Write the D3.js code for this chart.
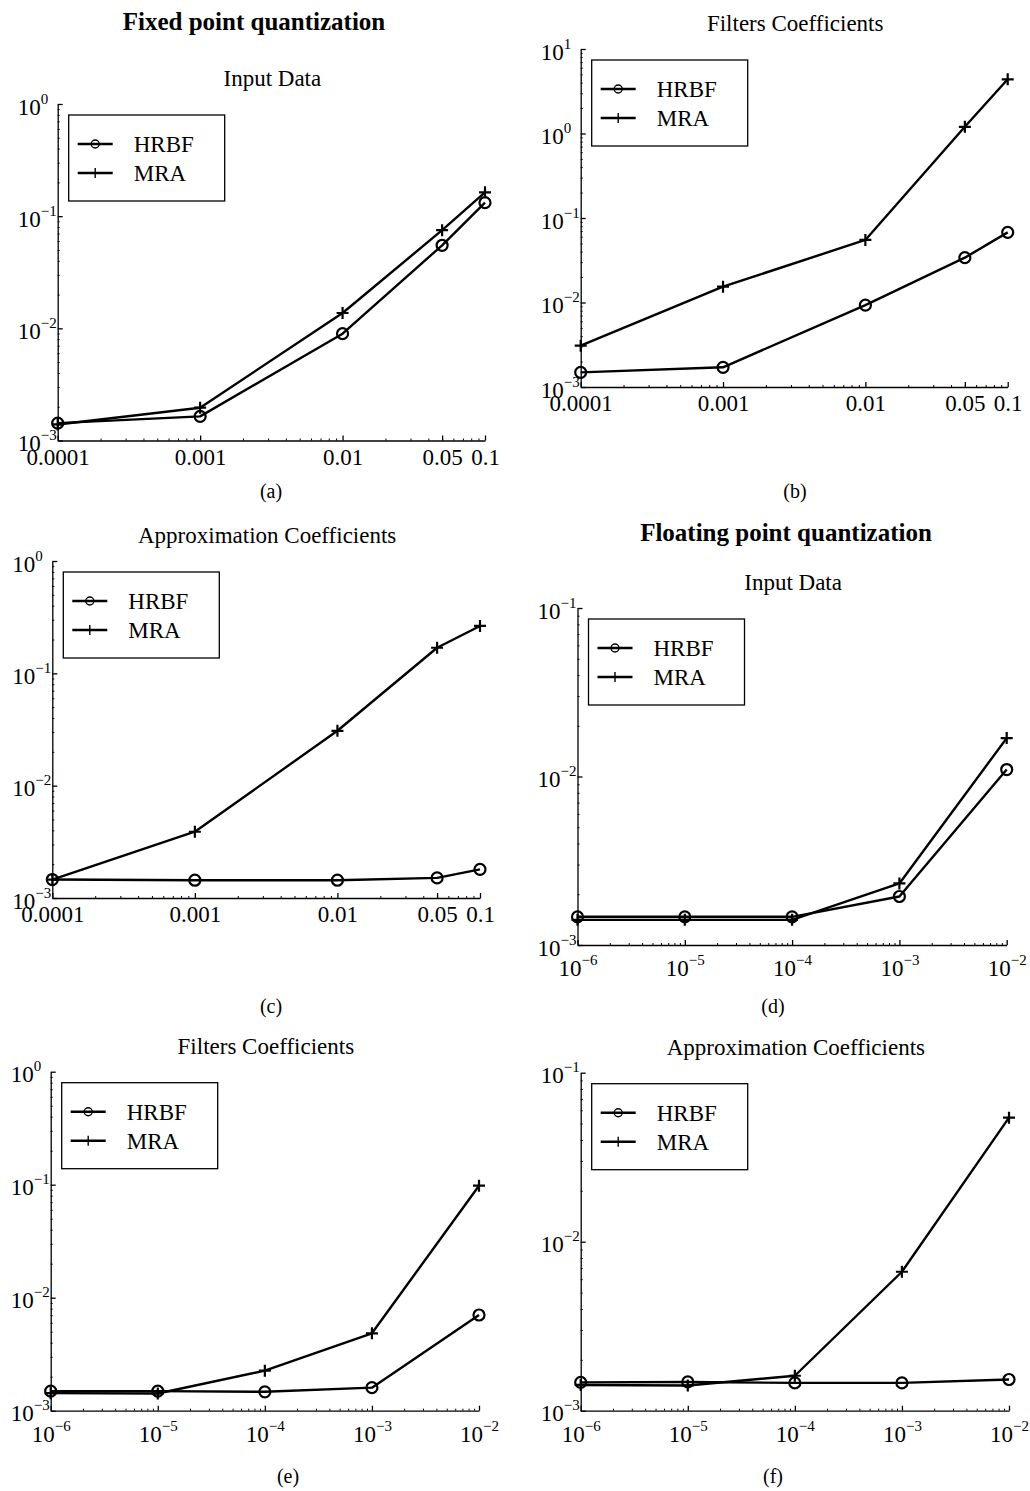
<!DOCTYPE html>
<html>
<head>
<meta charset="utf-8">
<script src="https://cdn.jsdelivr.net/npm/d3@7"></script>
<style>
    body { margin: 0; background: #fff; }
    svg { display: block; font-family: "Liberation Serif", "Times New Roman", serif; }
    .axis path, .axis line { stroke: #000; stroke-width: 1.3; fill: none; }
    .axis.minor line { stroke-width: 1; }
    .axis text { font-family: "Liberation Serif", "Times New Roman", serif; font-size: 23px; fill: #000; }
    .series { fill: none; stroke: #000; stroke-width: 2.4; stroke-linejoin: round; }
    .marker { fill: none; stroke: #000; stroke-width: 2.2; }
    .legend-box { fill: #fff; stroke: #000; stroke-width: 1.3; }
    .legend text { font-size: 23px; }
    .heading { font-size: 25px; font-weight: bold; text-anchor: middle; }
    .subtitle { font-size: 23px; text-anchor: middle; }
    .caption { font-size: 20px; text-anchor: middle; }
</style>
</head>
<body>
<script>
// quantization steps on the x axis
var fixedSteps = [0.0001, 0.001, 0.01, 0.05, 0.1];
var fixedStepLabels = ["0.0001", "0.001", "0.01", "0.05", "0.1"];
var floatSteps = [1e-6, 1e-5, 1e-4, 1e-3, 1e-2];

var seriesNames = ["HRBF", "MRA"];

// fixed point quantization
var hrbfFixedInput = [1.43e-3, 1.64e-3, 8.96e-3, 0.055, 0.132];
var mraFixedInput = [1.39e-3, 1.96e-3, 0.0137, 0.075, 0.163];
var hrbfFixedFilters = [1.49e-3, 1.71e-3, 9.3e-3, 0.0339, 0.0676];
var mraFixedFilters = [3.08e-3, 0.0154, 0.055, 1.20, 4.38];
var hrbfFixedApprox = [1.46e-3, 1.44e-3, 1.44e-3, 1.51e-3, 1.80e-3];
var mraFixedApprox = [1.46e-3, 3.89e-3, 0.0308, 0.169, 0.264];

// floating point quantization
var hrbfFloatInput = [1.47e-3, 1.47e-3, 1.47e-3, 1.94e-3, 0.011];
var mraFloatInput = [1.41e-3, 1.41e-3, 1.41e-3, 2.32e-3, 0.0169];
var hrbfFloatFilters = [1.49e-3, 1.49e-3, 1.47e-3, 1.60e-3, 7.03e-3];
var mraFloatFilters = [1.43e-3, 1.42e-3, 2.26e-3, 4.84e-3, 0.098];
var hrbfFloatApprox = [1.47e-3, 1.48e-3, 1.46e-3, 1.46e-3, 1.53e-3];
var mraFloatApprox = [1.42e-3, 1.41e-3, 1.61e-3, 6.64e-3, 0.0542];

// y axis decades (exponents of 10), per panel
var yDecades = [[-3, 0], [-3, 1], [-3, 0], [-3, -1], [-3, 0], [-3, -1]];

var headings = ["Fixed point quantization", "Floating point quantization"];
var panelTitles = ["Input Data", "Filters Coefficients", "Approximation Coefficients",
                   "Input Data", "Filters Coefficients", "Approximation Coefficients"];
var captions = ["(a)", "(b)", "(c)", "(d)", "(e)", "(f)"];


function logPanel(svg) {
    var _chart = {};

    var _box = {left: 0, right: 400, top: 0, bottom: 300},
        _steps = [], _stepLabels = null,
        _decades = [-3, 0],
        _hrbf = [], _mra = [],
        _title = "", _caption = "", _captionAt = [0, 0],
        _x, _y, _g;

    _chart.render = function () {
        _x = d3.scaleLog()
                .domain([_steps[0], _steps[_steps.length - 1]])
                .range([_box.left, _box.right]);
        _y = d3.scaleLog()
                .domain([Math.pow(10, _decades[0]), Math.pow(10, _decades[1])])
                .range([_box.bottom, _box.top]);

        _g = svg.append("g").attr("class", "panel");

        renderMinorTicks();
        renderXAxis();
        renderYAxis();
        renderLines();
        renderLegend();
        renderTexts();
    };

    function minorValues(lo, hi) {
        var vals = [];
        for (var e = lo; e < hi; e++)
            for (var m = 2; m <= 9; m++) vals.push(m * Math.pow(10, e));
        return vals;
    }

    function renderMinorTicks() {
        var xlo = Math.round(Math.log10(_steps[0])),
            xhi = Math.ceil(Math.log10(_steps[_steps.length - 1]) - 1e-9);
        var xm = minorValues(xlo, xhi).filter(function (v) {
            return v <= _steps[_steps.length - 1] * 1.0001;
        });

        _g.append("g")
                .attr("class", "axis minor")
                .attr("transform", "translate(0," + _box.bottom + ")")
                .call(d3.axisBottom(_x).tickValues(xm).tickSize(-2).tickFormat(""))
                .select(".domain").remove();

        _g.append("g")
                .attr("class", "axis minor")
                .attr("transform", "translate(" + _box.left + ",0)")
                .call(d3.axisLeft(_y).tickValues(minorValues(_decades[0], _decades[1])).tickSize(-2).tickFormat(""))
                .select(".domain").remove();
    }

    function renderXAxis() {
        var axisG = _g.append("g")
                .attr("class", "x axis")
                .attr("transform", "translate(0," + _box.bottom + ")")
                .call(d3.axisBottom(_x).tickValues(_steps).tickSizeInner(-5).tickSizeOuter(0).tickFormat(""));

        axisG.selectAll(".tick text").remove();

        axisG.selectAll(".tick").each(function (d, i) {
            var t = d3.select(this).append("text")
                    .attr("text-anchor", "middle")
                    .attr("fill", "#000");
            if (_stepLabels) {
                t.attr("y", 24).text(_stepLabels[i]);
            } else {
                t.attr("y", 31);
                powerLabel(t, Math.round(Math.log10(d)));
            }
        });
    }

    function renderYAxis() {
        var ticks = d3.range(_decades[0], _decades[1] + 1).map(function (e) { return Math.pow(10, e); });

        var axisG = _g.append("g")
                .attr("class", "y axis")
                .attr("transform", "translate(" + _box.left + ",0)")
                .call(d3.axisLeft(_y).tickValues(ticks).tickSizeInner(-5).tickSizeOuter(0).tickFormat(""));

        axisG.selectAll(".tick text").remove();

        // the "10" bases line up on the left, exponents follow
        axisG.selectAll(".tick").each(function (d) {
            var t = d3.select(this).append("text")
                    .attr("text-anchor", "start")
                    .attr("x", -40)
                    .attr("y", 10)
                    .attr("fill", "#000");
            powerLabel(t, Math.round(Math.log10(d)));
        });
    }

    function powerLabel(text, e) {
        text.append("tspan").text("10");
        text.append("tspan")
                .attr("dy", -11)
                .style("font-size", "15px")
                .text(e < 0 ? "\u2212" + (-e) : String(e));
    }

    function renderLines() {
        var line = d3.line()
                .x(function (d) { return _x(d.x); })
                .y(function (d) { return _y(d.y); });

        var sets = [_hrbf, _mra].map(function (vals) {
            return vals.map(function (v, i) { return {x: _steps[i], y: v}; });
        });

        _g.selectAll("path.series").data(sets)
                .enter()
                .append("path")
                .attr("class", "series")
                .attr("d", line);

        _g.selectAll("circle.marker").data(sets[0])
                .enter()
                .append("circle")
                .attr("class", "marker")
                .attr("r", 5.5)
                .attr("cx", function (d) { return _x(d.x); })
                .attr("cy", function (d) { return _y(d.y); });

        _g.selectAll("path.marker").data(sets[1])
                .enter()
                .append("path")
                .attr("class", "marker")
                .attr("d", "M-6,0H6M0,-6V6")
                .attr("transform", function (d) {
                    return "translate(" + _x(d.x) + "," + _y(d.y) + ")";
                });
    }

    function renderLegend() {
        var lg = _g.append("g")
                .attr("class", "legend")
                .attr("transform", "translate(" + (_box.left + 11) + "," + (_box.top + 11) + ")");

        lg.append("rect")
                .attr("class", "legend-box")
                .attr("width", 156)
                .attr("height", 86);

        var rows = lg.selectAll("g.row").data(seriesNames)
                .enter()
                .append("g")
                .attr("class", "row")
                .attr("transform", function (d, i) { return "translate(0," + (29 + i * 29) + ")"; });

        rows.append("line")
                .attr("x1", 9).attr("x2", 44)
                .attr("stroke", "#000")
                .attr("stroke-width", 2.6);

        rows.filter(function (d, i) { return i === 0; })
                .append("circle")
                .attr("cx", 26.5)
                .attr("r", 4)
                .attr("fill", "none")
                .attr("stroke", "#000")
                .attr("stroke-width", 1.4);

        rows.filter(function (d, i) { return i === 1; })
                .append("path")
                .attr("d", "M26.5,-5V5")
                .attr("stroke", "#000")
                .attr("stroke-width", 1.4);

        rows.append("text")
                .attr("x", 65)
                .attr("y", 8)
                .text(function (d) { return d; });
    }

    function renderTexts() {
        _g.append("text")
                .attr("class", "subtitle")
                .attr("x", (_box.left + _box.right) / 2 + 1)
                .attr("y", _box.top - 18)
                .text(_title);

        _g.append("text")
                .attr("class", "caption")
                .attr("x", _captionAt[0])
                .attr("y", _captionAt[1])
                .text(_caption);
    }

    _chart.box = function (b) {
        if (!arguments.length) return _box;
        _box = b;
        return _chart;
    };

    _chart.steps = function (s, labels) {
        if (!arguments.length) return _steps;
        _steps = s;
        _stepLabels = labels || null;
        return _chart;
    };

    _chart.decades = function (d) {
        if (!arguments.length) return _decades;
        _decades = d;
        return _chart;
    };

    _chart.data = function (hrbf, mra) {
        if (!arguments.length) return [_hrbf, _mra];
        _hrbf = hrbf;
        _mra = mra;
        return _chart;
    };

    _chart.title = function (t) {
        if (!arguments.length) return _title;
        _title = t;
        return _chart;
    };

    _chart.caption = function (c, at) {
        if (!arguments.length) return _caption;
        _caption = c;
        _captionAt = at;
        return _chart;
    };

    return _chart;
}


var svg = d3.select("body").append("svg")
        .attr("width", 1030)
        .attr("height", 1491);

svg.append("text").attr("class", "heading").attr("x", 254).attr("y", 30).text(headings[0]);
svg.append("text").attr("class", "heading").attr("x", 786).attr("y", 541).text(headings[1]);

// plot areas of the six panels
var boxes = [
    {left: 57.7, right: 485, top: 104, bottom: 440.5},
    {left: 580.7, right: 1007.7, top: 49, bottom: 387},
    {left: 52.3, right: 480, top: 561, bottom: 898},
    {left: 577.5, right: 1006.7, top: 608, bottom: 945},
    {left: 50.7, right: 479, top: 1071.7, bottom: 1410.7},
    {left: 580.7, right: 1009, top: 1072.7, bottom: 1410.7}
];
var captionSpots = [[271, 498], [795, 498], [271, 1013], [773, 1013], [288, 1483], [773, 1483]];

var panelData = [
    [hrbfFixedInput, mraFixedInput],
    [hrbfFixedFilters, mraFixedFilters],
    [hrbfFixedApprox, mraFixedApprox],
    [hrbfFloatInput, mraFloatInput],
    [hrbfFloatFilters, mraFloatFilters],
    [hrbfFloatApprox, mraFloatApprox]
];

panelData.forEach(function (pair, i) {
    var fixed = i < 3;
    logPanel(svg)
            .box(boxes[i])
            .steps(fixed ? fixedSteps : floatSteps, fixed ? fixedStepLabels : null)
            .decades(yDecades[i])
            .data(pair[0], pair[1])
            .title(panelTitles[i])
            .caption(captions[i], captionSpots[i])
            .render();
});
</script>
</body>
</html>
